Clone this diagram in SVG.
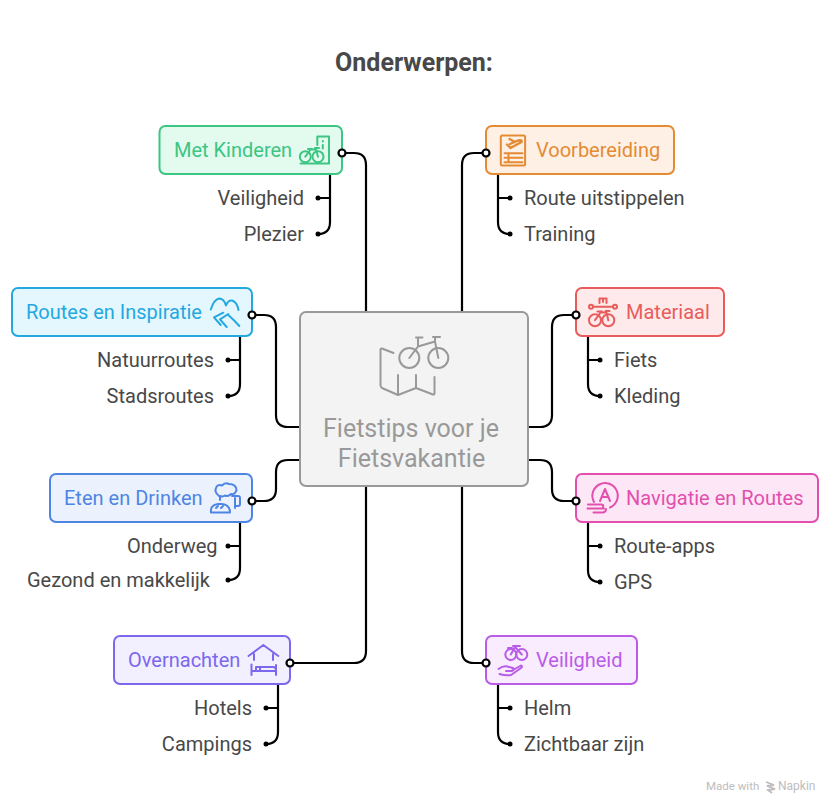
<svg xmlns="http://www.w3.org/2000/svg" width="830" height="804" viewBox="0 0 830 804">
<style>
text{font-family:Roboto,"Liberation Sans",sans-serif}
.title{font-size:25px;font-weight:700;fill:#484848}
.lbl{font-size:20px}
.sub{font-size:20px;fill:#484848}
.box{stroke-width:2}
.ic{fill:none;stroke-width:2;stroke-linecap:round;stroke-linejoin:round}
.con{fill:none;stroke:#000;stroke-width:2.2;stroke-linecap:round}
.open{fill:#fff;stroke:#000;stroke-width:2.2}
.end{fill:#000}
.green{color:#3cc583}.orange{color:#e48b34}.blue{color:#24a8e0}.red{color:#e85c5c}.azure{color:#4e85e4}.pink{color:#e24fae}.indigo{color:#7b68ee}.violet{color:#b95ce8}
.col{fill:currentColor}.box,.ic{stroke:currentColor}
</style>
<rect width="830" height="804" fill="#fff"/>
<text class="title" x="414" y="71" text-anchor="middle">Onderwerpen:</text>
<g id="connectors" class="connectors">
<path class="con" d="M366 312V165Q366 153 354 153H342"/>
<path class="con" d="M462 312V165Q462 153 474 153H486"/>
<path class="con" d="M300 427H288Q276 427 276 415V327Q276 315 264 315H252"/>
<path class="con" d="M528 427H540Q552 427 552 415V327Q552 315 564 315H576"/>
<path class="con" d="M300 460H288Q276 460 276 472V489Q276 501 264 501H252"/>
<path class="con" d="M528 460H540Q552 460 552 472V489Q552 501 564 501H576"/>
<path class="con" d="M366 486V651Q366 663 354 663H290"/>
<path class="con" d="M462 486V651Q462 663 474 663H486"/>
<path class="con" d="M330 174V222Q330 234 318 234M330 198H318"/>
<path class="con" d="M498 174V222Q498 234 510 234M498 198H510"/>
<path class="con" d="M240 336V384Q240 396 228 396M240 360H228"/>
<path class="con" d="M588 336V384Q588 396 600 396M588 360H600"/>
<path class="con" d="M240 522V568Q240 580 228 580M240 546H228"/>
<path class="con" d="M588 522V570Q588 582 600 582M588 546H600"/>
<path class="con" d="M278 684V732Q278 744 266 744M278 708H266"/>
<path class="con" d="M498 684V732Q498 744 510 744M498 708H510"/>
</g>
<g id="center">
<rect x="300" y="312" width="228" height="174" rx="6" fill="#f3f3f3" stroke="#999" stroke-width="2"/>
<g fill="none" stroke="#999" stroke-width="2" stroke-linecap="round" stroke-linejoin="round">
<path d="M393.500 353L382 348.500Q380.500 348 380.500 350V385Q380.500 387 382 388L398 395L416 388L433 394.500Q434.500 395 434.500 393V377M398 375V395M416 375V388"/>
<circle cx="409.300" cy="358" r="10"/><circle cx="438.300" cy="358" r="10"/>
<path d="M409.300 358L418 346.500L435 341.500L438.300 358M418 346.500L418 337.500M416 337.500H422.500M433 337H440M435 337V341.500"/>
</g>
<text x="411" y="437" text-anchor="middle" font-size="25" fill="#999">Fietstips voor je</text>
<text x="411.500" y="467" text-anchor="middle" font-size="25" fill="#999">Fietsvakantie</text>
</g>
<g id="met-kinderen" class="green">
<rect class="box" x="159.500" y="126" width="182.500" height="48" rx="6" fill="#e3fbee"/>
<text class="lbl col" x="174" y="157">Met Kinderen</text>
<g class="ic"><path d="M317.300 145V136.500H329V163.500H300.500"/><path d="M322.800 145V148.500M322.800 141V141.500"/><circle cx="305.300" cy="156.700" r="5.500"/><circle cx="318" cy="156.700" r="5.500"/><path d="M305.300 156.700L310.500 149.500H316L318 156.700M308 149H312M315 148H319"/></g>
</g>
<g id="voorbereiding" class="orange">
<rect class="box" x="486" y="126" width="188" height="48" rx="6" fill="#fef0e4"/>
<text class="lbl col" x="536" y="157">Voorbereiding</text>
<g class="ic"><rect x="500.800" y="135.500" width="24.300" height="30" rx="1.500"/><path d="M504.500 153.300H522.500M504.500 157.800H522.500M504.500 162.300H522.500M508.500 153.300V162.300"/><path d="M507 144.500L510.500 148L521.500 142Q522.500 139.500 518 140.500L510 144M509.500 139L515 142" stroke-width="2.400"/></g>
</g>
<g id="routes-en-inspiratie" class="blue">
<rect class="box" x="12" y="288" width="240" height="48" rx="6" fill="#e5f7fe"/>
<text class="lbl col" x="26" y="319">Routes en Inspiratie</text>
<g class="ic"><path d="M210.800 309.500Q214 299.500 219 298.500Q224 298.500 226 305.500Q228 300 232 300.500Q237 302 238.500 310"/><path d="M223.300 312.700L214 317.300L220.700 325M228.300 314L220 319.300L226.700 327M228.300 315Q234 320 239.300 326"/></g>
</g>
<g id="materiaal" class="red">
<rect class="box" x="576" y="288" width="148" height="48" rx="6" fill="#feeaea"/>
<text class="lbl col" x="626" y="319">Materiaal</text>
<g class="ic"><circle cx="591" cy="306.700" r="2"/><circle cx="615" cy="306.700" r="2"/><path d="M593 306.700H613"/><path d="M599.500 303V298.500H606.500V303M603 298.500V302"/><circle cx="595" cy="320.200" r="6"/><circle cx="608.300" cy="320.200" r="6"/><path d="M595 320.200L600.500 312.500H606.500L608.300 320.200M597.500 311.500H602M605.500 311H609.500"/></g>
</g>
<g id="eten-en-drinken" class="azure">
<rect class="box" x="50" y="474" width="202" height="48" rx="6" fill="#ebf2fe"/>
<text class="lbl col" x="64" y="505">Eten en Drinken</text>
<g class="ic"><path d="M219 496Q214 492 216 488Q217 484 222 485.500Q225 482 229 484Q236 484 236.500 490Q235 495 231 494Q228 497 225 495.500Q223 497 220 496V500"/><path d="M211 512.500Q210 505 218 504H222Q230 505 230 512.500Z"/><path d="M216 508L218 506M221 508L223 506"/><path d="M232 496H238Q240 496 240 498V504Q240 506 238 506H235M235 498V508"/></g>
</g>
<g id="navigatie-en-routes" class="pink">
<rect class="box" x="576" y="474" width="242" height="48" rx="6" fill="#fde7f6"/>
<text class="lbl col" x="626" y="505">Navigatie en Routes</text>
<g class="ic"><path d="M594 502A12.700 12.700 0 1 1 610 507.500"/><path d="M600 501L605 489L610 501M601.500 497H608.500"/><path d="M588 504.500H600Q604 504 603 507M587.500 508.500H604M593.500 512.500H603Q606 512 606 509"/></g>
</g>
<g id="overnachten" class="indigo">
<rect class="box" x="114" y="636" width="176" height="48" rx="6" fill="#f2efff"/>
<text class="lbl col" x="128" y="667">Overnachten</text>
<g class="ic"><path d="M248.500 656L263.300 645L278.300 656M254 654V660M273 654V660"/><path d="M251.500 664.500V675M276 665V675M251.500 671H276M256 671V667H260V671M260 667H273Q276 667 276 670"/></g>
</g>
<g id="veiligheid" class="violet">
<rect class="box" x="486" y="636" width="151" height="48" rx="6" fill="#f8ecfe"/>
<text class="lbl col" x="536" y="667">Veiligheid</text>
<g class="ic"><circle cx="510.800" cy="654.500" r="5.500"/><circle cx="521.800" cy="654.500" r="5.500"/><path d="M510.800 654.500L515 647L521.800 654.500M513 646H520M508 648H512"/><path d="M498.500 669Q504 665 509 667L513 668Q515 670 512 671H506M512 670.500L521 665.500Q523 666 521 668L511 675Q506 676 499.500 674"/></g>
</g>
<g id="sub-labels">
<g><text class="sub" x="304" y="205" text-anchor="end">Veiligheid</text><text class="sub" x="304" y="241" text-anchor="end">Plezier</text></g>
<g><text class="sub" x="524" y="205">Route uitstippelen</text><text class="sub" x="524" y="241">Training</text></g>
<g><text class="sub" x="214" y="367" text-anchor="end">Natuurroutes</text><text class="sub" x="214" y="403" text-anchor="end">Stadsroutes</text></g>
<g><text class="sub" x="614" y="367">Fiets</text><text class="sub" x="614" y="403">Kleding</text></g>
<g><text class="sub" x="127" y="553">Onderweg</text><text class="sub" x="210" y="587" text-anchor="end">Gezond en makkelijk</text></g>
<g><text class="sub" x="614" y="553">Route-apps</text><text class="sub" x="614" y="589">GPS</text></g>
<g><text class="sub" x="252" y="715" text-anchor="end">Hotels</text><text class="sub" x="252" y="751" text-anchor="end">Campings</text></g>
<g><text class="sub" x="524" y="715">Helm</text><text class="sub" x="524" y="751">Zichtbaar zijn</text></g>
</g>
<g id="connector-ends">
<circle class="open" cx="342" cy="153" r="3.500"/><circle class="open" cx="486" cy="153" r="3.500"/>
<circle class="open" cx="252" cy="315" r="3.500"/><circle class="open" cx="576" cy="315" r="3.500"/>
<circle class="open" cx="252" cy="501" r="3.500"/><circle class="open" cx="576" cy="501" r="3.500"/>
<circle class="open" cx="290" cy="663" r="3.500"/><circle class="open" cx="486" cy="663" r="3.500"/>
<g class="end">
<circle cx="318" cy="198" r="2.500"/><circle cx="318" cy="234" r="2.500"/><circle cx="510" cy="198" r="2.500"/><circle cx="510" cy="234" r="2.500"/>
<circle cx="228" cy="360" r="2.500"/><circle cx="228" cy="396" r="2.500"/><circle cx="600" cy="360" r="2.500"/><circle cx="600" cy="396" r="2.500"/>
<circle cx="228" cy="546" r="2.500"/><circle cx="228" cy="580" r="2.500"/><circle cx="600" cy="546" r="2.500"/><circle cx="600" cy="582" r="2.500"/>
<circle cx="266" cy="708" r="2.500"/><circle cx="266" cy="744" r="2.500"/><circle cx="510" cy="708" r="2.500"/><circle cx="510" cy="744" r="2.500"/>
</g>
</g>
<g id="watermark">
<text x="706" y="790" font-size="11.500" fill="#bdbdbd">Made with</text>
<path d="M766 782L774 785L767 786L775 789L768 790L772 793" fill="none" stroke="#bdbdbd" stroke-width="1.800"/>
<text x="778" y="790" font-size="12" fill="#bdbdbd">Napkin</text>
</g>
</svg>
